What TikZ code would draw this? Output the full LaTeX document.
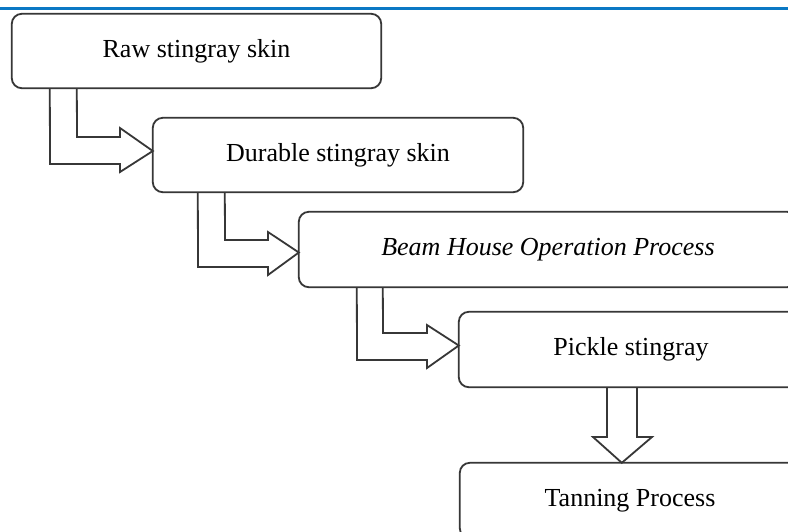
\documentclass[tikz,border=0pt]{standalone}
\usepackage{fontspec}
\setmainfont{Liberation Serif}
\usetikzlibrary{calc}
\definecolor{topblue}{RGB}{10,120,196}
\definecolor{edge}{RGB}{55,55,55}
\begin{document}
\begin{tikzpicture}[x=1pt,y=-1pt,
  box/.style={draw=none,rounded corners=10pt,fill=white,
    inner sep=0pt,font=\fontsize{26}{30}\selectfont},
  boxline/.style={draw=edge,line width=1.8pt,rounded corners=10pt},
  arr/.style={draw=edge,line width=1.8pt,line join=miter,fill=white}]
\useasboundingbox (0,0) rectangle (788,531);
\clip (0,0) rectangle (788,531);
\fill[white] (0,0) rectangle (788,531);
\draw[topblue,line width=3.5pt] (0,8.5) -- (788,8.5);
% boxes
\node[box,minimum width=369pt,minimum height=74pt] (b1) at (196.5,51) {Raw stingray skin};
\node[box,minimum width=370pt,minimum height=74pt] (b2) at (338,155) {Durable stingray skin};
\node[box,minimum width=498pt,minimum height=75pt] (b3) at (548,249.5) {\itshape Beam House Operation Process};
\node[box,minimum width=344pt,minimum height=75pt] (b4) at (631,349.5) {Pickle stingray};
\node[box,minimum width=340pt,minimum height=75pt] (b5) at (630,500.5) {Tanning Process};
% bent block arrows
\draw[arr] ([xshift=38pt]b1.south west) -- (50,164) -- (120,164) -- (120,172)
  -- ([yshift=4pt]b2.west) -- (120,128) -- (120,137) -- (77,137) -- ([xshift=65pt]b1.south west);
\draw[arr] ([xshift=45pt]b2.south west) -- (198,267) -- (268,267) -- (268,275)
  -- ([yshift=-3pt]b3.west) -- (268,232) -- (268,240) -- (225,240) -- ([xshift=72pt]b2.south west);
\draw[arr] ([xshift=58pt]b3.south west) -- (357,360) -- (427,360) -- (427,368)
  -- ([yshift=4pt]b4.west) -- (427,325) -- (427,333) -- (383,333) -- ([xshift=84pt]b3.south west);
% straight down arrow
\draw[arr] (607,387) -- (607,437) -- (593,437) -- ($(b5.north west)+(162,0)$)
  -- (652,437) -- (637,437) -- (637,387);
% box borders drawn over the arrow fills
\foreach \b in {b1,b2,b3,b4,b5}{
  \draw[boxline] (\b.south west) rectangle (\b.north east);
}
\end{tikzpicture}
\end{document}
